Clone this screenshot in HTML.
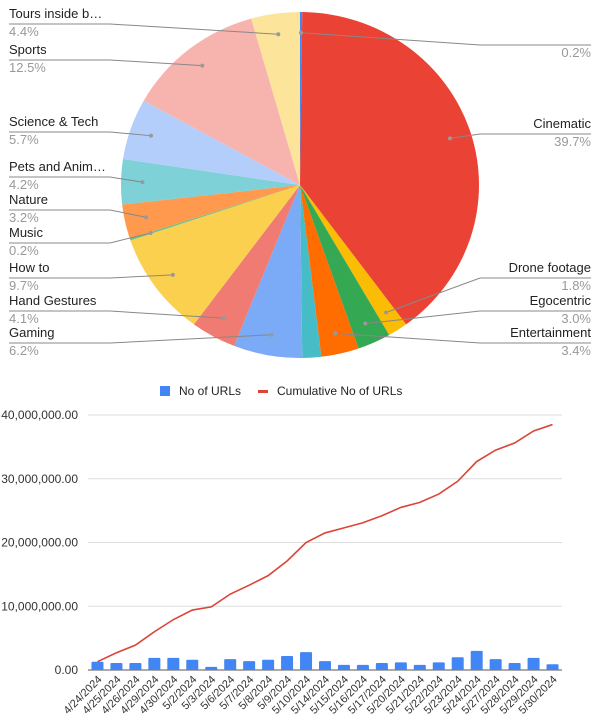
<!DOCTYPE html>
<html><head><meta charset="utf-8"><style>
body{margin:0;background:#fff;}
svg{display:block;font-family:"Liberation Sans",Arial,sans-serif;}
</style></head><body>
<svg id="s" width="600" height="724" viewBox="0 0 600 724">
<g id="pie"></g>
<g id="pielabels"></g>
<g id="bar">
<g>
<rect x="160" y="386" width="10" height="10" fill="#4285f4"/>
<text x="179" y="395" font-size="12" fill="#222">No of URLs</text>
<rect x="258" y="390" width="10" height="3" fill="#db4437"/>
<text x="277" y="395" font-size="12" fill="#222">Cumulative No of URLs</text>
</g>
</g>
</svg>
<script>
const sliceLabels=["","Cinematic","Drone footage","Egocentric","Entertainment","","Gaming","Hand Gestures","How to","Music","Nature","Pets and Anim…","Science & Tech","Sports","Tours inside b…"];
const sliceValues=[0.2,39.7,1.8,3.0,3.4,1.7,6.2,4.1,9.7,0.2,3.2,4.2,5.7,12.5,4.4];
const sliceColors=["#4285f4","#ea4335","#fbbc04","#34a853","#ff6d01","#46bdc6","#7baaf7","#f07b72","#fcd04f","#71c287","#ff994d","#7ed1d7","#b3cefb","#f7b4ae","#fde49b"];
const categories=["4/24/2024","4/25/2024","4/26/2024","4/29/2024","4/30/2024","5/2/2024","5/3/2024","5/6/2024","5/7/2024","5/8/2024","5/9/2024","5/10/2024","5/14/2024","5/15/2024","5/16/2024","5/17/2024","5/20/2024","5/21/2024","5/22/2024","5/23/2024","5/24/2024","5/27/2024","5/28/2024","5/29/2024","5/30/2024"];
const urlCounts=[1.3,1.1,1.1,1.9,1.9,1.6,0.5,1.7,1.4,1.6,2.2,2.8,1.4,0.8,0.8,1.1,1.2,0.8,1.2,2.0,3.0,1.7,1.1,1.9,0.9];
const cumulative=[1.3,2.7,3.9,6.0,7.9,9.4,9.9,11.9,13.3,14.8,17.1,20.0,21.5,22.3,23.1,24.2,25.5,26.3,27.6,29.6,32.7,34.5,35.6,37.5,38.5];
const yTicks=[0,10,20,30,40];
const yTickLabels=["0.00","10,000,000.00","20,000,000.00","30,000,000.00","40,000,000.00"];

const NS="http://www.w3.org/2000/svg";
function mk(p,t,a){const e=document.createElementNS(NS,t);for(const k in a)e.setAttribute(k,a[k]);p.appendChild(e);return e;}

// PIE
const cx=300,cy=185,rx=179,ry=173;
const pie=document.getElementById('pie');
const total=sliceValues.reduce((a,b)=>a+b,0);
function pt(ang,f){return [cx+rx*f*Math.sin(ang),cy-ry*f*Math.cos(ang)];}
let acc=0;const mids=[];
sliceValues.forEach((v,i)=>{
  const a0=acc/total*2*Math.PI;acc+=v;const a1=acc/total*2*Math.PI;
  const p0=pt(a0,1),p1=pt(a1,1);const large=(a1-a0)>Math.PI?1:0;
  const path=mk(pie,'path',{d:`M${cx},${cy}L${p0[0]},${p0[1]}A${rx},${ry} 0 ${large} 1 ${p1[0]},${p1[1]}Z`,fill:sliceColors[i]});
  
  
  mids.push((a0+a1)/2);
});
// label positions (left/right column)
const labelY={0:[35,'r',null],1:[124,'r'],2:[268,'r'],3:[301,'r'],4:[333,'r'],6:[333,'l'],7:[301,'l'],8:[268,'l'],9:[233,'l'],10:[200,'l'],11:[167,'l'],12:[122,'l'],13:[50,'l'],14:[14,'l']};
const pl=document.getElementById('pielabels');
for(const k in labelY){
  const i=+k;const [ty,side]=labelY[k];
  const m=pt(mids[i],0.88);
  const lineY=ty+10;
  const g=mk(pl,'g',{});
  
  
  if(side==='l'){
    mk(g,'polyline',{points:`9,${lineY} ${Math.min(m[0]-20,110)},${lineY} ${m[0]},${m[1]}`,fill:'none',stroke:'#888','stroke-width':1});
    if(sliceLabels[i])mk(g,'text',{x:9,y:ty+4,'font-size':13,fill:'#222'}).textContent=sliceLabels[i];
    mk(g,'text',{x:9,y:ty+22,'font-size':13,fill:'#999'}).textContent=sliceValues[i].toFixed(1)+'%';
  }else{
    mk(g,'polyline',{points:`591,${lineY} ${Math.max(m[0]+20,480)},${lineY} ${m[0]},${m[1]}`,fill:'none',stroke:'#888','stroke-width':1});
    if(sliceLabels[i])mk(g,'text',{x:591,y:ty+4,'font-size':13,fill:'#222','text-anchor':'end'}).textContent=sliceLabels[i];
    mk(g,'text',{x:591,y:ty+22,'font-size':13,fill:'#999','text-anchor':'end'}).textContent=sliceValues[i].toFixed(1)+'%';
  }
  mk(g,'circle',{cx:m[0],cy:m[1],r:2,fill:'#999'});
}

// COMBO CHART
const bar=document.getElementById('bar');
const x0=88,x1=562,yB=670,yT=415;
const ymax=40;
const y=v=>yB-(v/ymax)*(yB-yT);
const step=(x1-x0)/categories.length;
const x=i=>x0+step*(i+0.5);
yTicks.forEach((t,i)=>{
  const gl=mk(bar,'line',{x1:x0,x2:x1,y1:y(t),y2:y(t),stroke:t===0?'#555':'#ddd','stroke-width':1});
  
  
  const tl=mk(bar,'text',{x:78,y:y(t)+4,'font-size':12,fill:'#333','text-anchor':'end'});
  
  
  tl.textContent=yTickLabels[i];
});
categories.forEach((c,i)=>{
  const bw=12;
  const r=mk(bar,'rect',{x:x(i)-bw/2,y:y(urlCounts[i]),width:bw,height:yB-y(urlCounts[i]),fill:'#4285f4',rx:1});
  
  
  const t=mk(bar,'text',{x:0,y:0,'font-size':11,fill:'#333','text-anchor':'end',transform:`translate(${x(i)+5},${yB+10}) rotate(-45)`});
  
  
  t.textContent=c;
});
const line=mk(bar,'polyline',{points:cumulative.map((v,i)=>`${x(i)},${y(v)}`).join(' '),fill:'none',stroke:'#db4437','stroke-width':1.6});


</script>
</body></html>
